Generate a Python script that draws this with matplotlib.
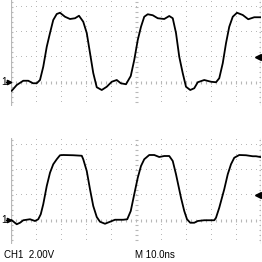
import numpy as np
import matplotlib
matplotlib.use("Agg")
import matplotlib.pyplot as plt

# ---------------------------------------------------------------------------
# Data: time in ns, voltage in V
# ---------------------------------------------------------------------------
top_t = [0.3, 2.3, 4.9, 6.9, 8.8, 10.3, 11.6, 12.9, 14.3, 15.6, 16.9, 18.3,
         19.6, 21.6, 23.6, 25.6, 27.2, 28.9, 30.3, 31.6, 32.9, 34.3, 36.3,
         38.3, 40.3, 42.3, 43.9, 46.0, 47.9, 49.3, 50.7, 52.0, 53.3, 54.7,
         56.7, 58.7, 61.3, 63.3, 64.7, 66.0, 67.3, 68.7, 70.0, 71.7, 73.3,
         74.7, 77.3, 80.0, 82.0, 83.3, 84.7, 86.0, 87.3, 88.7, 90.4, 92.7,
         94.9, 97.3, 100.0]
top_v = [-0.70, -0.24, 0.10, 0.10, -0.10, -0.10, 0.16, 1.22, 2.82, 3.92, 4.96,
         5.44, 5.54, 5.22, 5.04, 5.10, 5.30, 4.82, 3.92, 2.32, 0.72, -0.42,
         -0.64, -0.38, 0.02, 0.16, -0.10, -0.18, 0.48, 1.76, 3.36, 4.42, 5.22,
         5.42, 5.34, 5.10, 5.04, 5.28, 5.10, 3.92, 2.02, 0.70, -0.38, -0.64,
         -0.50, -0.02, 0.16, 0.02, -0.02, 0.30, 1.50, 3.10, 4.42, 5.22, 5.54,
         5.36, 5.02, 5.18, 5.18]

bot_t = [0.3, 2.3, 3.6, 4.9, 7.6, 9.6, 10.9, 11.9, 12.9, 14.3, 15.6, 16.9,
         18.3, 19.6, 20.9, 24.9, 28.3, 28.9, 30.3, 31.6, 32.9, 34.3, 35.6,
         37.6, 39.6, 41.6, 44.9, 46.5, 47.9, 49.3, 50.7, 52.0, 53.3, 55.3,
         57.3, 59.3, 61.3, 63.3, 64.7, 66.0, 68.0, 69.3, 70.4, 71.7, 73.3,
         74.7, 77.3, 81.3, 82.0, 83.3, 85.3, 86.7, 88.0, 89.3, 91.3, 94.0,
         96.7, 98.0, 99.7]
bot_v = [-0.02, -0.34, -0.22, -0.02, 0.06, -0.08, 0.06, 0.46, 1.26, 2.72, 3.78,
         4.46, 4.86, 5.18, 5.20, 5.18, 5.14, 4.86, 3.92, 2.46, 1.12, 0.24,
         -0.14, -0.30, -0.14, 0.02, 0.02, 0.06, 0.72, 2.06, 3.38, 4.32, 4.86,
         5.20, 5.20, 5.04, 5.12, 5.12, 4.72, 3.66, 1.78, 0.72, 0.06, -0.22,
         -0.22, -0.08, -0.02, -0.02, 0.18, 0.98, 2.46, 3.66, 4.46, 4.98, 5.20,
         5.18, 5.10, 5.10, 5.04]

TIME_DIV = 10.0   # ns/div
VOLT_DIV = 2.0    # V/div
TRIG_LEVEL = 2.0  # V
ch_label = "CH1  2.00V"
tb_label = "M 10.0ns"

GRID = "#b8b8b8"
TRACE = "#000000"
W, H = 262, 262


def _screen(ax):
    """Graticule: dotted divisions, ticked centre lines and side borders."""
    ax.set_xlim(0, 10 * TIME_DIV)
    ax.set_ylim(-0.96 * VOLT_DIV, 3.28 * VOLT_DIV)
    ax.axis("off")
    minor_t = TIME_DIV / 5
    minor_v = VOLT_DIV / 5
    vs = np.arange(-4, 17) * minor_v
    ts = np.arange(0, 51) * minor_t
    for k in range(1, 10):
        if k == 5:
            continue
        ax.plot(np.full_like(vs, k * TIME_DIV), vs, ",", color=GRID)
    for k in (1, 2, 3):
        ax.plot(ts, np.full_like(ts, k * VOLT_DIV), ",", color=GRID)
    # centre lines with minor ticks
    ax.vlines(ts, -0.12 * VOLT_DIV / 2, 0.12 * VOLT_DIV / 2, color=GRID, lw=0.8)
    ax.hlines(vs, 5 * TIME_DIV - 0.6, 5 * TIME_DIV + 0.6, color=GRID, lw=0.8)
    # borders with ticks
    ax.axvline(0, color=GRID, lw=0.9)
    ax.axvline(10 * TIME_DIV, color=GRID, lw=0.9)
    ax.hlines(vs, 0, 0.8, color=GRID, lw=0.8)
    ax.hlines(vs, 10 * TIME_DIV - 0.8, 10 * TIME_DIV, color=GRID, lw=0.8)


def _markers(ax, y_center_px):
    # channel ground marker on the left
    ax.figure.text(1.5 / W, 1 - y_center_px / H, "1", fontsize=7.2,
                   family="Liberation Sans", va="center", ha="left")
    ax.plot([-2.2, -0.2], [0, 0], color=TRACE, lw=0.8, clip_on=False)
    ax.plot(-0.7, 0, marker=">", ms=3.2, color=TRACE, clip_on=False)
    # trigger level arrow on the right
    ax.plot([98.5, 100.3], [TRIG_LEVEL, TRIG_LEVEL], color=TRACE, lw=0.9,
            clip_on=False)
    ax.plot(98.6, TRIG_LEVEL, marker="<", ms=4, color=TRACE, clip_on=False)


fig = plt.figure(figsize=(W / 100, H / 100), dpi=100)
fig.set_facecolor("white")

ax_top = fig.add_axes([11 / W, 1 - 106 / H, 250 / W, 106 / H])
ax_bot = fig.add_axes([11 / W, 1 - 244 / H, 250 / W, 106 / H])

for ax, t, v, yc in ((ax_top, top_t, top_v, 82), (ax_bot, bot_t, bot_v, 220)):
    _screen(ax)
    ax.plot(t, v, color=TRACE, lw=1.3, solid_joinstyle="round", zorder=5)
    _markers(ax, yc)

fig.text(4 / W, 1 - 255 / H, ch_label, fontsize=7.0, family="Liberation Sans",
         va="center", ha="left")
fig.text(135 / W, 1 - 255 / H, tb_label, fontsize=7.0, family="Liberation Sans",
         va="center", ha="left")

fig.savefig("out.png", dpi=100, facecolor="white")
